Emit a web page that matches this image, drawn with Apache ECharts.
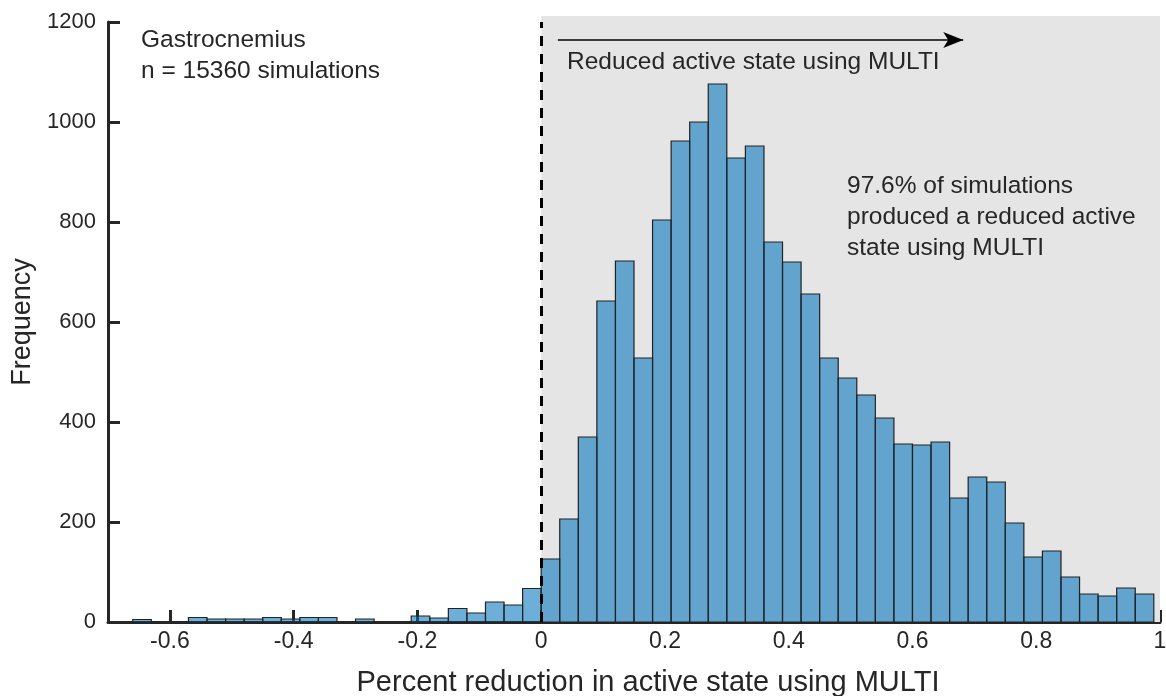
<!DOCTYPE html>
<html>
<head>
<meta charset="utf-8">
<script src="https://cdn.jsdelivr.net/npm/echarts@6/dist/echarts.min.js"></script>
<style>
  html, body { margin: 0; padding: 0; background: #ffffff; }
  #chart { width: 1166px; height: 696px; }
</style>
</head>
<body>
<div id="chart"></div>
<script>
// Histogram of percent reduction in active state (bin width 0.03)
const binWidth = 0.03;
const firstEdge = -0.66;
const counts = [
  5, 0, 0, 9, 6, 6, 6, 9, 6, 9, 9, 0, 6, 0, 0, 12, 8, 27, 18, 40, 34, 67,
  126, 206, 370, 642, 722, 528, 804, 962, 1000, 1076, 928, 952, 760, 720,
  656, 528, 488, 454, 408, 356, 354, 360, 248, 290, 280, 198, 130, 142,
  90, 56, 52, 68, 56
];
const xTicks = [-0.6, -0.4, -0.2, 0, 0.2, 0.4, 0.6, 0.8, 1];
const xRange = [-0.7, 1];
const yRange = [0, 1200];
const yStep = 200;

const titleX = 'Percent reduction in active state using MULTI';
const titleY = 'Frequency';
const noteMuscle = ['Gastrocnemius', 'n = 15360 simulations'];
const noteArrow = 'Reduced active state using MULTI';
const noteShare = ['97.6% of simulations', 'produced a reduced active', 'state using MULTI'];

const FONT = '"Liberation Sans", Arial, Helvetica, sans-serif';
const INK = '#262626';
const NOTE_SIZE = 24.5;
const LINE_GAP = 31;

const bins = counts.map((c, i) => {
  const lo = +(firstEdge + i * binWidth).toFixed(2);
  return [lo, +(lo + binWidth).toFixed(2), c];
});

// one text element per annotation line, vertically centred on y
function noteLines(lines, x, y0) {
  return lines.map((t, i) => ({
    type: 'text', x: x, y: y0 + i * LINE_GAP, z: 10, silent: true,
    style: { text: t, font: NOTE_SIZE + 'px ' + FONT, fill: INK,
             textAlign: 'left', textVerticalAlign: 'middle' }
  }));
}

const chart = echarts.init(document.getElementById('chart'), null, { renderer: 'canvas' });

chart.setOption({
  animation: false,
  backgroundColor: '#ffffff',
  grid: { left: 108, right: 6, top: 22, bottom: 74, containLabel: false, outerBoundsMode: 'none' },
  xAxis: {
    type: 'value',
    min: xRange[0],
    max: xRange[1],
    name: titleX,
    nameLocation: 'middle',
    nameGap: 46,
    nameTextStyle: { fontFamily: FONT, fontSize: 29, color: INK, padding: [0, 0, 0, 28] },
    axisLine: { show: true, onZero: false, lineStyle: { color: INK, width: 3 } },
    axisTick: { show: true, inside: true, length: 12, customValues: xTicks,
                lineStyle: { color: INK, width: 3 } },
    axisLabel: { show: true, customValues: xTicks, margin: 8,
                 fontFamily: FONT, fontSize: 23, color: INK,
                 formatter: v => String(v) },
    splitLine: { show: false }
  },
  yAxis: {
    type: 'value',
    min: yRange[0],
    max: yRange[1],
    interval: yStep,
    name: titleY,
    nameLocation: 'middle',
    nameGap: 72,
    nameTextStyle: { fontFamily: FONT, fontSize: 27, color: INK },
    axisLine: { show: true, onZero: false, lineStyle: { color: INK, width: 3 } },
    axisTick: { show: true, inside: true, length: 12, lineStyle: { color: INK, width: 3 } },
    axisLabel: { margin: 12, fontFamily: FONT, fontSize: 22, color: INK,
                 formatter: v => String(v) },
    splitLine: { show: false }
  },
  series: [
    {
      // shaded region for positive reductions
      type: 'custom',
      clip: false,
      z: 1,
      silent: true,
      data: [[0, 1, 1212]],
      renderItem: (params, api) => {
        const a = api.coord([api.value(0), api.value(2)]);
        const b = api.coord([api.value(1), 0]);
        return { type: 'rect', shape: { x: a[0], y: a[1], width: b[0] - a[0], height: b[1] - a[1] },
                 style: { fill: '#e5e5e5' } };
      }
    },
    {
      type: 'custom',
      z: 3,
      data: bins,
      encode: { x: [0, 1], y: 2 },
      renderItem: (params, api) => {
        const c = api.value(2);
        if (!c) return null;
        const a = api.coord([api.value(0), c]);
        const b = api.coord([api.value(1), 0]);
        return { type: 'rect',
                 shape: { x: a[0], y: a[1], width: b[0] - a[0], height: b[1] - a[1] },
                 style: { fill: 'rgba(0,114,189,0.57)', stroke: '#222222', lineWidth: 1.2 } };
      },
      markLine: {
        silent: true,
        z: 5,
        animation: false,
        label: { show: false },
        data: [
          [ { coord: [0, 0], symbol: 'none', lineStyle: { color: '#000', width: 3, type: [10, 8] } },
            { coord: [0, 1200], symbol: 'none' } ],
          [ { coord: [0.027, 1164], symbol: 'none', lineStyle: { color: '#000', width: 1.5, type: 'solid' } },
            { coord: [0.682, 1164], symbol: 'arrow', symbolSize: [12, 20] } ]
        ]
      }
    }
  ],
  graphic: [].concat(
    noteLines(noteMuscle, 141, 40),
    noteLines([noteArrow], 567, 62),
    noteLines(noteShare, 847, 186)
  )
});
</script>
</body>
</html>
